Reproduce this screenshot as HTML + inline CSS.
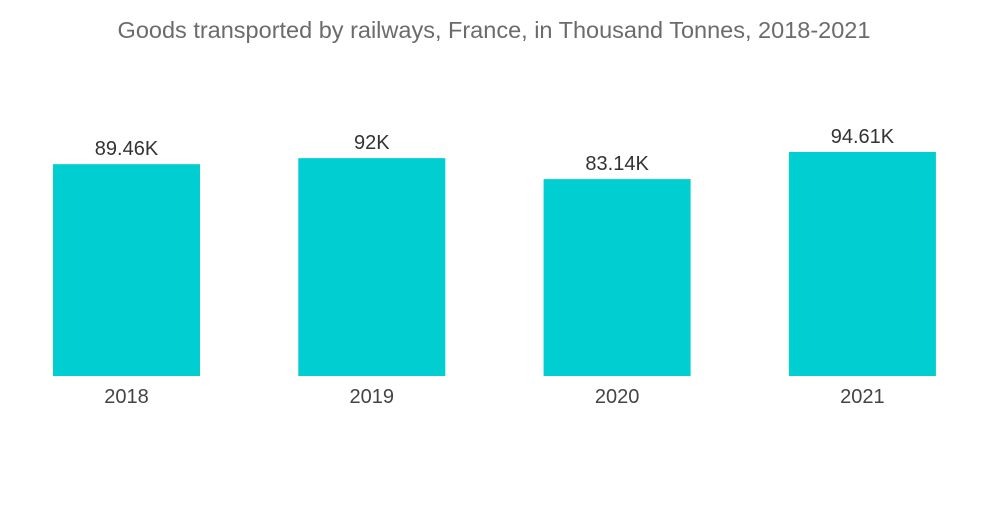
<!DOCTYPE html>
<html><head><meta charset="utf-8"><style>
body{margin:0;background:#fff;}
svg text{font-family:"Liberation Sans",sans-serif;}
</style></head><body>
<svg width="1000" height="504">
<text x="494" y="38" text-anchor="middle" font-size="23.5" fill="#6b6b6b">Goods transported by railways, France, in Thousand Tonnes, 2018-2021</text>
<g id="bars"></g>
</svg>
<script>
const categories=["2018","2019","2020","2021"];
const values=[89.46,92,83.14,94.61];
const valueLabels=["89.46K","92K","83.14K","94.61K"];
const baseY=376, pxPerK=2.368, bandStart=53, band=245.3, barW=147;
const y=v=>baseY-v*pxPerK;
const x=i=>bandStart+i*band;
const g=document.getElementById('bars');
const NS="http://www.w3.org/2000/svg";
categories.forEach((c,i)=>{
  const r=document.createElementNS(NS,'rect');
  r.setAttribute('x',x(i));r.setAttribute('y',y(values[i]));
  r.setAttribute('width',barW);r.setAttribute('height',baseY-y(values[i]));
  r.setAttribute('fill','#00ced1');
  
  
  g.appendChild(r);
  const t=document.createElementNS(NS,'text');
  t.setAttribute('x',x(i)+barW/2);t.setAttribute('y',y(values[i])-9);
  t.setAttribute('text-anchor','middle');t.setAttribute('font-size','20');t.setAttribute('fill','#333');
  t.textContent=valueLabels[i];
  
  
  g.appendChild(t);
  const l=document.createElementNS(NS,'text');
  l.setAttribute('x',x(i)+barW/2);l.setAttribute('y',403);
  l.setAttribute('text-anchor','middle');l.setAttribute('font-size','20');l.setAttribute('fill','#444');
  l.textContent=c;
  
  
  g.appendChild(l);
});
</script>
</body></html>
